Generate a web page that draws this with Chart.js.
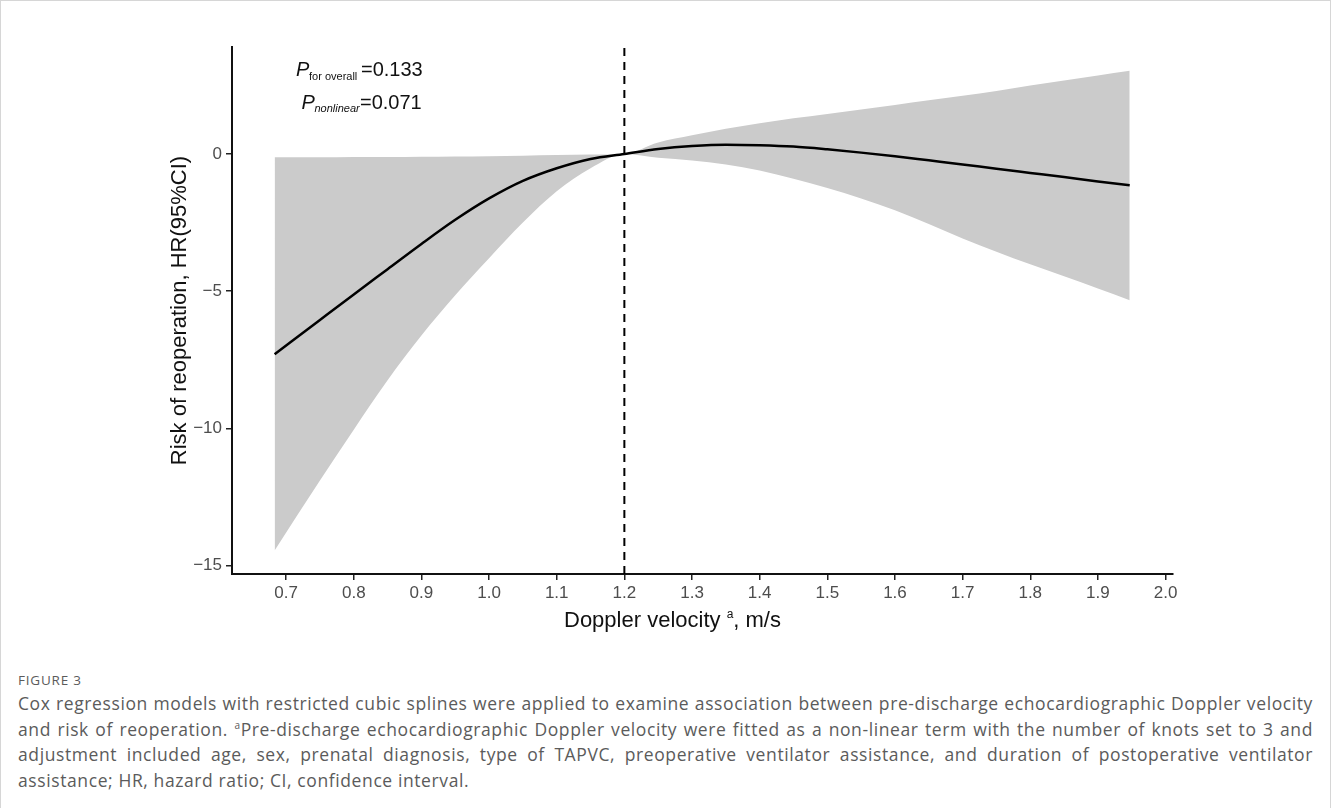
<!DOCTYPE html>
<html>
<head>
<meta charset="utf-8">
<script src="https://cdn.jsdelivr.net/npm/chart.js@4.4.1/dist/chart.umd.min.js"></script>
<style>
  body { margin: 0; background: #fff; }
  #frame { position: absolute; left: 0; top: 0; width: 1329px; height: 808px; border: 1px solid #d6d6d6; border-bottom: none; }
  #wrap { position: absolute; left: 0; top: 0; width: 1331px; height: 650px; }
  #cap { position: absolute; left: 18px; top: 669px; width: 1295px; font-family: "Open Sans", sans-serif; color: #5b5b5b; }
  #cap .fig { font-size: 13.5px; line-height: 22px; letter-spacing: 0.8px; margin-bottom: 0; }
  #cap .ln { font-size: 17.5px; letter-spacing: 0.6px; line-height: 25.5px; text-align: justify; text-align-last: justify; }
  #cap .ln.last { text-align-last: left; }
  #cap sup { font-size: 10px; vertical-align: 7px; line-height: 0; }
</style>
</head>
<body>
<div id="frame"></div>
<div id="wrap"><canvas id="rcs"></canvas></div>
<div id="cap">
  <div class="fig">FIGURE 3</div>
  <div class="ln">Cox regression models with restricted cubic splines were applied to examine association between pre-discharge echocardiographic Doppler velocity</div>
  <div class="ln">and risk of reoperation. <sup>a</sup>Pre-discharge echocardiographic Doppler velocity were fitted as a non-linear term with the number of knots set to 3 and</div>
  <div class="ln">adjustment included age, sex, prenatal diagnosis, type of TAPVC, preoperative ventilator assistance, and duration of postoperative ventilator</div>
  <div class="ln last">assistance; HR, hazard ratio; CI, confidence interval.</div>
</div>
<script>
// doppler velocity (m/s) and estimated log-HR with 95% CI
var velocity = [0.683, 0.75, 0.80, 0.85, 0.90, 0.95, 1.00, 1.05, 1.10, 1.15, 1.20, 1.25, 1.30,
                1.35, 1.40, 1.45, 1.50, 1.55, 1.60, 1.65, 1.70, 1.75, 1.80, 1.85, 1.90, 1.947];
var fit   = [-7.30, -6.05, -5.12, -4.20, -3.28, -2.40, -1.62, -0.98, -0.52, -0.18, 0, 0.18, 0.29,
             0.34, 0.32, 0.27, 0.17, 0.05, -0.08, -0.23, -0.38, -0.54, -0.69, -0.84, -1.00, -1.14];
var lower = [-14.45, -11.9, -10.05, -8.25, -6.62, -5.15, -3.80, -2.50, -1.36, -0.52, 0, -0.14, -0.24,
             -0.38, -0.60, -0.90, -1.24, -1.62, -2.05, -2.55, -3.08, -3.56, -4.02, -4.46, -4.90, -5.33];
var upper = [-0.12, -0.12, -0.11, -0.11, -0.10, -0.09, -0.08, -0.06, -0.04, -0.02, 0, 0.42, 0.68,
             0.92, 1.12, 1.30, 1.46, 1.62, 1.79, 1.96, 2.12, 2.30, 2.50, 2.68, 2.86, 3.03];
var refVelocity = 1.2;
var xTicks = [0.7, 0.8, 0.9, 1.0, 1.1, 1.2, 1.3, 1.4, 1.5, 1.6, 1.7, 1.8, 1.9, 2.0];
var yTicks = [-15, -10, -5, 0];
var xMin = 0.62, xMax = 2.011, yMin = -15.31, yMax = 3.90;

function pts(ys) {
    return velocity.map(function(v, i){ return {x: v, y: ys[i]}; });
}

var sans = 'Liberation Sans, Arial, sans-serif';

var textPlugin = {
    id: 'texts',
    afterDraw: function(chart) {
        var c = chart.ctx;
        c.save();
        c.fillStyle = '#111';
        c.textBaseline = 'alphabetic';
        c.textAlign = 'left';
        // p values
        c.font = 'italic 20px ' + sans;
        c.fillText('P', 296, 76);
        c.font = '11px ' + sans;
        c.fillText('for overall', 309, 80);
        c.font = '20px ' + sans;
        c.fillText('=0.133', 361, 76);
        c.font = 'italic 20px ' + sans;
        c.fillText('P', 301.5, 108.5);
        c.font = 'italic 11px ' + sans;
        c.fillText('nonlinear', 314.5, 112);
        c.font = '20px ' + sans;
        c.fillText('=0.071', 360, 108.5);
        // x axis title with superscript
        var x = 564, base = 627;
        c.font = '22px ' + sans;
        c.fillText('Doppler velocity ', x, base);
        x += c.measureText('Doppler velocity ').width;
        c.font = '12px ' + sans;
        c.fillText('a', x, base - 9);
        x += c.measureText('a').width;
        c.font = '22px ' + sans;
        c.fillText(', m/s', x, base);
        c.restore();
    }
};

var ctx = document.getElementById('rcs');
var chart = new Chart(ctx, {
    type: 'line',
    data: {
        datasets: [
            {
                data: pts(upper),
                borderWidth: 0,
                backgroundColor: '#cbcbcb',
                fill: '+1',
                pointRadius: 0,
                order: 3,
                cubicInterpolationMode: 'monotone'
            },
            {
                data: pts(lower),
                borderWidth: 0,
                backgroundColor: '#cbcbcb',
                fill: false,
                pointRadius: 0,
                order: 2,
                cubicInterpolationMode: 'monotone'
            },
            {
                data: pts(fit),
                borderColor: '#000',
                borderWidth: 2.5,
                fill: false,
                pointRadius: 0,
                order: 0,
                cubicInterpolationMode: 'monotone'
            },
            {
                data: [{x: refVelocity, y: yMin}, {x: refVelocity, y: yMax}],
                borderColor: '#000',
                borderWidth: 2,
                borderDash: [8, 6],
                fill: false,
                pointRadius: 0,
                order: 1
            }
        ]
    },
    options: {
        responsive: true,
        maintainAspectRatio: false,
        animation: false,
        layout: { padding: { left: 167, top: 47, right: 158, bottom: 0 } },
        plugins: { legend: { display: false }, tooltip: { enabled: false } },
        scales: {
            x: {
                type: 'linear',
                min: xMin,
                max: xMax,
                afterBuildTicks: function(s){ s.ticks = xTicks.map(function(v){ return {value: v}; }); },
                afterFit: function(s){ s.height = 76; },
                grid: { display: true, drawOnChartArea: false, drawTicks: true, tickLength: 6, color: '#222', lineWidth: 1.5 },
                border: { display: true, color: '#111', width: 2 },
                ticks: {
                    color: '#4d4d4d',
                    font: { family: sans, size: 17 },
                    padding: 3,
                    maxRotation: 0,
                    autoSkip: false,
                    callback: function(v){ return v.toFixed(1); }
                }
            },
            y: {
                type: 'linear',
                min: yMin,
                max: yMax,
                afterBuildTicks: function(s){ s.ticks = yTicks.map(function(v){ return {value: v}; }); },
                afterFit: function(s){ s.width = 65; },
                grid: { display: true, drawOnChartArea: false, drawTicks: true, tickLength: 6, color: '#222', lineWidth: 1.5 },
                border: { display: true, color: '#111', width: 2 },
                title: {
                    display: true,
                    text: 'Risk of reoperation, HR(95%CI)',
                    color: '#111',
                    font: { family: sans, size: 22 },
                    padding: { top: 0, bottom: 0 }
                },
                ticks: {
                    color: '#4d4d4d',
                    font: { family: sans, size: 17 },
                    padding: 4,
                    callback: function(v){ return v < 0 ? '\u2212' + Math.abs(v) : String(v); }
                }
            }
        }
    },
    plugins: [textPlugin]
});
</script>
</body>
</html>
